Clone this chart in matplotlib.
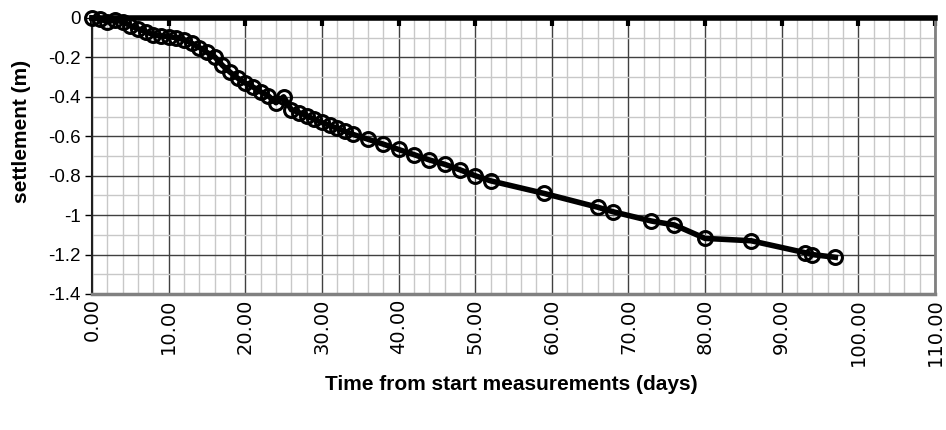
import matplotlib
matplotlib.use('Agg')
import matplotlib.pyplot as plt
import numpy as np

# data (days, settlement in m)
days = [0, 1, 2, 3, 4, 5, 6, 7, 8, 9, 10, 11, 12, 13, 14, 15, 16, 17, 18, 19,
        20, 21, 22, 23, 24, 25, 26, 27, 28, 29, 30, 31, 32, 33, 34, 36, 38, 40,
        42, 44, 46, 48, 50, 52, 59, 66, 68, 73, 76, 80, 86, 93, 94, 97]
settlement = [0.0, -0.005, -0.02, -0.01, -0.02, -0.04, -0.055, -0.07, -0.085,
              -0.091, -0.095, -0.10, -0.11, -0.128, -0.15, -0.175, -0.197,
              -0.24, -0.275, -0.305, -0.33, -0.35, -0.375, -0.395, -0.43,
              -0.40, -0.465, -0.48, -0.495, -0.515, -0.53, -0.545, -0.56,
              -0.575, -0.59, -0.615, -0.64, -0.667, -0.693, -0.72, -0.742,
              -0.77, -0.80, -0.826, -0.89, -0.96, -0.983, -1.03, -1.05,
              -1.118, -1.13, -1.19, -1.20, -1.214]

x_ticks = np.arange(0, 111, 10)
y_ticks = np.arange(-1.4, 0.01, 0.2)
y_labels = ['-1.4', '-1.2', '-1', '-0.8', '-0.6', '-0.4', '-0.2', '0']

plt.rcParams['font.family'] = ['Liberation Sans', 'DejaVu Sans']

fig = plt.figure(figsize=(9.46, 4.30), dpi=100)
ax = fig.add_axes([0.0973, 0.3163, 0.891, 0.642])

ax.set_xlim(0, 110)
ax.set_ylim(-1.4, 0)

# grid
ax.set_xticks(np.arange(0, 111, 2), minor=True)
ax.set_yticks(np.arange(-1.4, 0.01, 0.1), minor=True)
ax.grid(which='minor', color='#c8c8c8', lw=1)
ax.grid(which='major', color='#404040', lw=1)
ax.set_axisbelow(True)

ax.plot(days, settlement, color='black', lw=4, marker='o', ms=10,
        mfc='none', mec='black', mew=2.2, clip_on=False, zorder=5)

ax.set_xticks(x_ticks)
ax.set_xticklabels(['%.2f' % v for v in x_ticks], rotation=90,
                   fontsize=14, family='DejaVu Sans')
ax.set_yticks(y_ticks)
ax.set_yticklabels(y_labels, fontsize=13.5)

ax.tick_params(axis='x', which='major', bottom=False, top=True,
               labelbottom=True, labeltop=False, direction='in',
               length=6, width=3, color='black', pad=3)
ax.tick_params(axis='x', which='minor', bottom=False, top=False)
ax.tick_params(axis='y', which='major', direction='out', length=5,
               width=1, pad=3)
ax.tick_params(axis='y', which='minor', left=False)

ax.spines['top'].set_linewidth(4)
ax.spines['top'].set_color('black')
ax.spines['left'].set_linewidth(1.5)
ax.spines['left'].set_color('#202020')
ax.spines['right'].set_linewidth(2)
ax.spines['right'].set_color('#808080')
ax.spines['bottom'].set_linewidth(2.5)
ax.spines['bottom'].set_color('#808080')

ax.set_ylabel('settlement (m)', fontsize=15, fontweight='bold')
ax.yaxis.set_label_coords(-0.072, 0.59)
ax.set_xlabel('Time from start measurements (days)', fontsize=15,
              fontweight='bold')
ax.xaxis.set_label_coords(0.498, -0.295)

fig.savefig('out.png', dpi=100)
